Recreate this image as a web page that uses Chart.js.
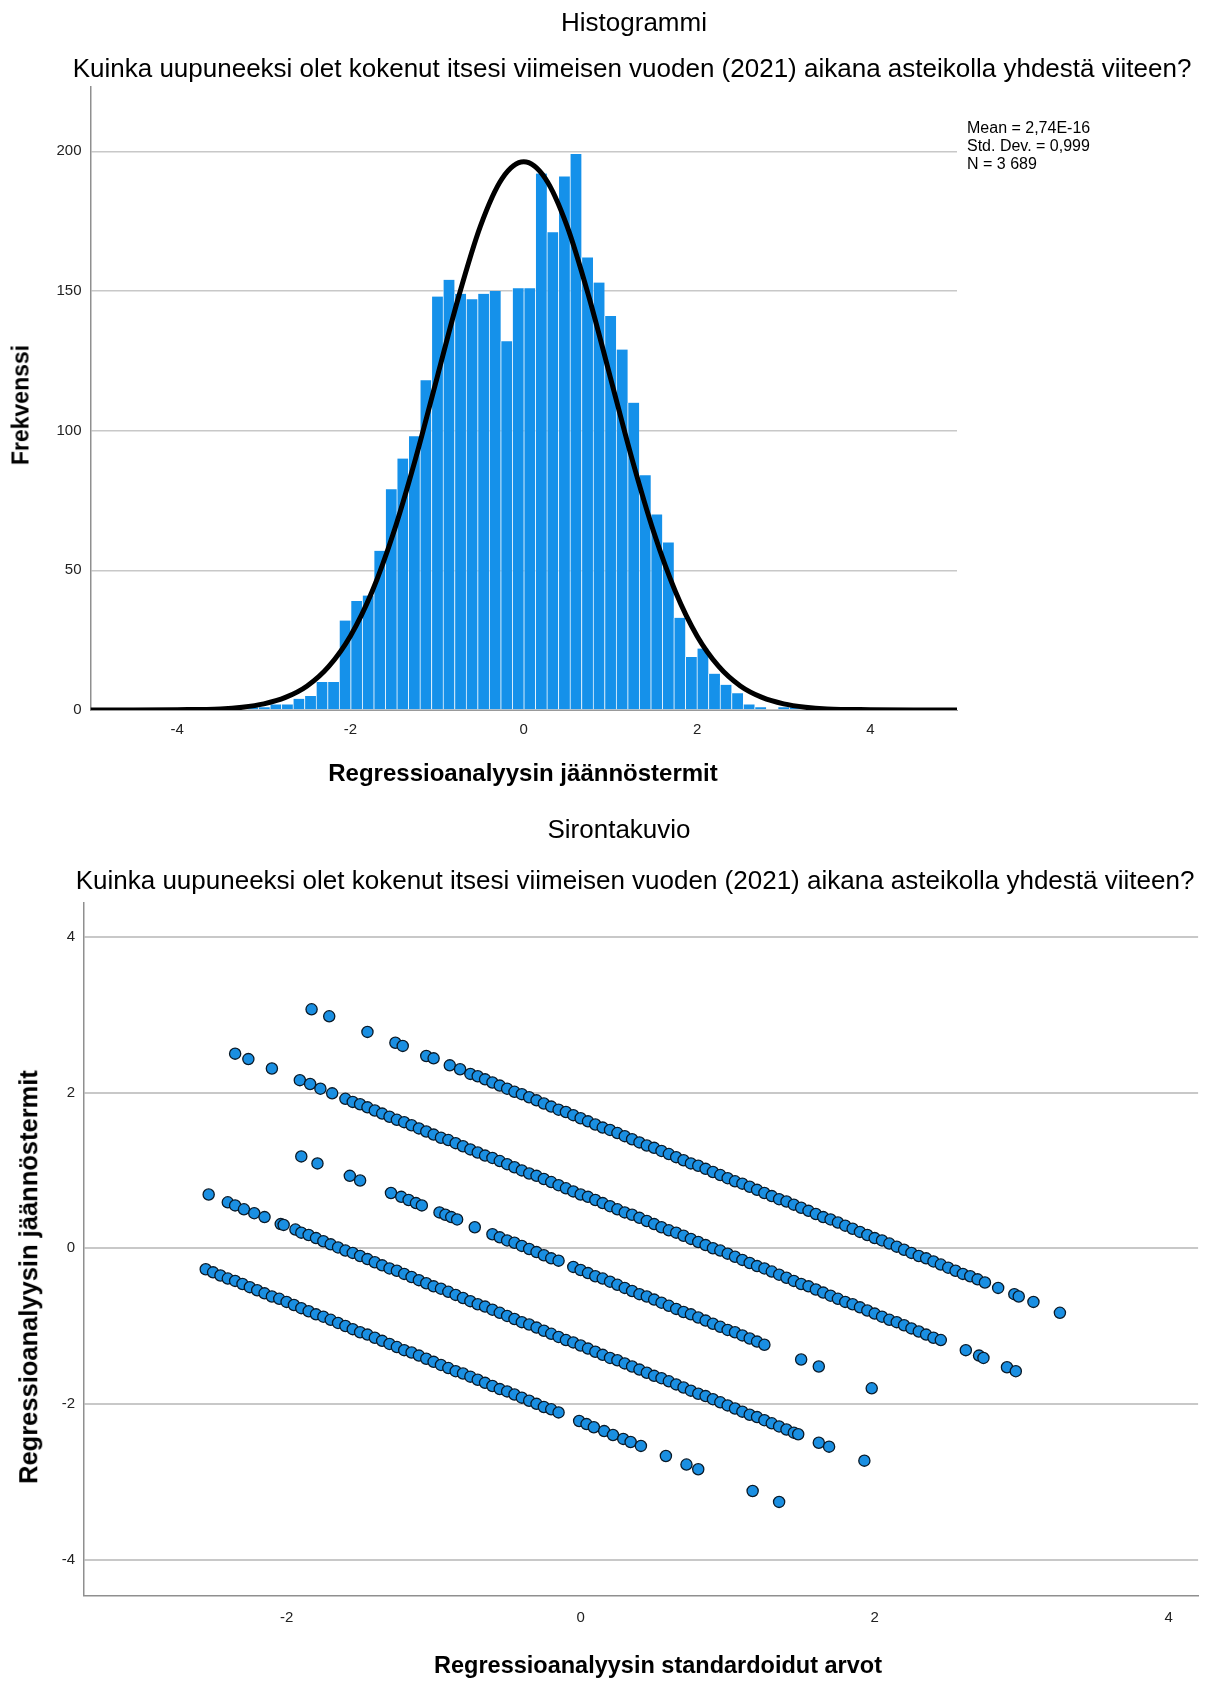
<!DOCTYPE html>
<html>
<head>
<meta charset="utf-8">
<script src="https://cdn.jsdelivr.net/npm/chart.js@4.4.1/dist/chart.umd.min.js"></script>
<style>
  body { margin: 0; background: #fff; width: 1205px; height: 1682px; position: relative; overflow: hidden;
         font-family: "Liberation Sans", Arial, sans-serif; color: #000; }
  canvas { position: absolute; left: 0; }
  .txt { position: absolute; white-space: nowrap; transform: translate(-50%, -50%); z-index: 2; line-height: 1; }
  .bold { font-weight: bold; }
  .rot { transform: translate(-50%, -50%) rotate(-90deg); }
  .stats { position: absolute; left: 967px; top: 119px; font-size: 16px; line-height: 18px; z-index: 2; white-space: nowrap; }
</style>
</head>
<body>
<canvas id="histo" width="1205" height="800" style="top:0"></canvas>
<canvas id="scatter" width="1205" height="882" style="top:800px"></canvas>

<div class="txt" style="left:634px;top:22px;font-size:26px">Histogrammi</div>
<div class="txt" style="left:632px;top:68px;font-size:26px">Kuinka uupuneeksi olet kokenut itsesi viimeisen vuoden (2021) aikana asteikolla yhdestä viiteen?</div>
<div class="txt bold rot" style="left:21px;top:405px;font-size:23px">Frekvenssi</div>
<div class="txt bold" style="left:523px;top:773px;font-size:24px">Regressioanalyysin jäännöstermit</div>
<div class="stats">Mean = 2,74E-16<br>Std. Dev. = 0,999<br>N = 3 689</div>

<div class="txt" style="left:619px;top:829px;font-size:26px">Sirontakuvio</div>
<div class="txt" style="left:635px;top:880px;font-size:26px">Kuinka uupuneeksi olet kokenut itsesi viimeisen vuoden (2021) aikana asteikolla yhdestä viiteen?</div>
<div class="txt bold rot" style="left:29px;top:1277px;font-size:25.5px">Regressioanalyysin jäännöstermit</div>
<div class="txt bold" style="left:658px;top:1666px;font-size:23.5px">Regressioanalyysin standardoidut arvot</div>

<script>
// histogrammi: luokkien keskikohdat ja frekvenssit
const binCenters = [-3.1302, -2.997, -2.8638, -2.7306, -2.5974, -2.4642, -2.331, -2.1978, -2.0646, -1.9314,
  -1.7982, -1.665, -1.5318, -1.3986, -1.2654, -1.1322, -0.999, -0.8658, -0.7326, -0.5994, -0.4662, -0.333, -0.1998, -0.0666,
  0.0666, 0.1998, 0.333, 0.4662, 0.5994, 0.7326, 0.8658, 0.999, 1.1322, 1.2654, 1.3986, 1.5318, 1.665, 1.7982,
  1.9314, 2.0646, 2.1978, 2.331, 2.4642, 2.5974, 2.7306, 2.8638, 2.997, 3.1302];
const binCounts = [1, 1, 2, 2, 4, 5, 10, 10, 32, 39, 41, 57, 79, 90, 98, 118, 148, 154, 149, 147, 149, 150, 132, 151,
  151, 192, 171, 191, 199, 162, 153, 141, 129, 110, 84, 70, 60, 33, 19, 22, 13, 9, 6, 2, 1, 0, 1, 1];

// normaalijakaumakäyrä luettuna kuvasta
const curveX = [-5, -4.5, -4, -3.5, -3.25, -3, -2.75, -2.5, -2.25, -2, -1.75, -1.5, -1.25, -1, -0.75, -0.5, -0.25, 0,
  0.25, 0.5, 0.75, 1, 1.25, 1.5, 1.75, 2, 2.25, 2.5, 2.75, 3, 3.25, 3.5, 4, 4.5, 5];
const curveY = [0, 0, 0.1, 0.4, 1, 2.2, 4.5, 8.6, 15.6, 26.5, 42.4, 63.7, 89.8, 119, 148.1, 173.2, 190.2, 196.2,
  190.2, 173.2, 148.1, 119, 89.8, 63.7, 42.4, 26.5, 15.6, 8.6, 4.5, 2.2, 1, 0.4, 0.1, 0, 0];

const histXTicks = [-4, -2, 0, 2, 4];
const histYTicks = [0, 50, 100, 150, 200];

// sirontakuvio: viisi vinoa nauhaa (x = standardoitu ennuste, y = standardoitu jäännös)
const bandA = [[-1.83,3.07],[-1.71,2.98],[-1.45,2.78],[-1.26,2.64],[-1.21,2.60],[-1.05,2.47],[-1.00,2.44],[-0.89,2.35],[-0.82,2.30],
  [-0.75,2.24],[-0.70,2.21],[-0.65,2.17],[-0.60,2.13],[-0.55,2.09],[-0.50,2.05],[-0.45,2.01],[-0.40,1.98],[-0.35,1.94],[-0.30,1.90],
  [-0.25,1.86],[-0.20,1.82],[-0.15,1.78],[-0.10,1.75],[-0.05,1.71],[0,1.67],[0.05,1.63],[0.10,1.59],[0.15,1.55],[0.20,1.52],
  [0.25,1.48],[0.30,1.44],[0.35,1.40],[0.40,1.36],[0.45,1.32],[0.50,1.29],[0.55,1.25],[0.60,1.21],[0.65,1.17],[0.70,1.13],
  [0.75,1.09],[0.80,1.06],[0.85,1.02],[0.90,0.98],[0.95,0.94],[1.00,0.90],[1.05,0.86],[1.10,0.83],[1.15,0.79],[1.20,0.75],
  [1.25,0.71],[1.30,0.67],[1.35,0.63],[1.40,0.60],[1.45,0.56],[1.50,0.52],[1.55,0.48],[1.60,0.44],[1.65,0.40],[1.70,0.37],
  [1.75,0.33],[1.80,0.29],[1.85,0.25],[1.90,0.21],[1.95,0.17],[2.00,0.13],[2.05,0.10],[2.10,0.06],[2.15,0.02],[2.20,-0.02],
  [2.25,-0.06],[2.30,-0.10],[2.35,-0.13],[2.40,-0.17],[2.45,-0.21],[2.50,-0.25],[2.55,-0.29],[2.60,-0.33],[2.65,-0.36],[2.70,-0.40],
  [2.75,-0.44],[2.84,-0.51],[2.95,-0.59],[2.98,-0.62],[3.08,-0.69],[3.26,-0.83]];
const bandB = [[-2.35,2.50],[-2.26,2.43],[-2.10,2.31],[-1.91,2.16],[-1.84,2.11],[-1.77,2.05],[-1.69,1.99],[-1.60,1.92],
  [-1.55,1.88],[-1.50,1.85],[-1.45,1.81],[-1.40,1.77],[-1.35,1.73],[-1.30,1.69],[-1.25,1.65],[-1.20,1.62],[-1.15,1.58],[-1.10,1.54],
  [-1.05,1.50],[-1.00,1.46],[-0.95,1.42],[-0.90,1.39],[-0.85,1.35],[-0.80,1.31],[-0.75,1.27],[-0.70,1.23],[-0.65,1.19],[-0.60,1.16],
  [-0.55,1.12],[-0.50,1.08],[-0.45,1.04],[-0.40,1.00],[-0.35,0.96],[-0.30,0.93],[-0.25,0.89],[-0.20,0.85],[-0.15,0.81],[-0.10,0.77],
  [-0.05,0.73],[0,0.69],[0.05,0.66],[0.10,0.62],[0.15,0.58],[0.20,0.54],[0.25,0.50],[0.30,0.46],[0.35,0.43],[0.40,0.39],
  [0.45,0.35],[0.50,0.31],[0.55,0.27],[0.60,0.23],[0.65,0.20],[0.70,0.16],[0.75,0.12],[0.80,0.08],[0.85,0.04],[0.90,0.00],
  [0.95,-0.03],[1.00,-0.07],[1.05,-0.11],[1.10,-0.15],[1.15,-0.19],[1.20,-0.23],[1.25,-0.26],[1.30,-0.30],[1.35,-0.34],[1.40,-0.38],
  [1.45,-0.42],[1.50,-0.46],[1.55,-0.49],[1.60,-0.53],[1.65,-0.57],[1.70,-0.61],[1.75,-0.65],[1.80,-0.69],[1.85,-0.72],[1.90,-0.76],
  [1.95,-0.80],[2.00,-0.84],[2.05,-0.88],[2.10,-0.92],[2.15,-0.95],[2.20,-0.99],[2.25,-1.03],[2.30,-1.07],[2.35,-1.11],[2.40,-1.15],
  [2.45,-1.18],[2.62,-1.31],[2.71,-1.38],[2.74,-1.41],[2.90,-1.53],[2.96,-1.58]];
const bandC = [[-1.90,1.18],[-1.79,1.09],[-1.57,0.93],[-1.50,0.87],[-1.29,0.71],[-1.22,0.66],[-1.17,0.62],[-1.12,0.58],[-1.08,0.55],
  [-0.96,0.46],[-0.92,0.43],[-0.88,0.40],[-0.84,0.37],[-0.72,0.27],
  [-0.60,0.18],[-0.55,0.14],[-0.50,0.10],[-0.45,0.07],[-0.40,0.03],[-0.35,-0.01],[-0.30,-0.05],[-0.25,-0.09],[-0.20,-0.13],[-0.15,-0.16],
  [-0.05,-0.24],[0,-0.28],[0.05,-0.32],[0.10,-0.36],[0.15,-0.39],[0.20,-0.43],[0.25,-0.47],[0.30,-0.51],[0.35,-0.55],[0.40,-0.59],
  [0.45,-0.62],[0.50,-0.66],[0.55,-0.70],[0.60,-0.74],[0.65,-0.78],[0.70,-0.82],[0.75,-0.85],[0.80,-0.89],[0.85,-0.93],[0.90,-0.97],
  [0.95,-1.01],[1.00,-1.05],[1.05,-1.08],[1.10,-1.12],[1.15,-1.16],[1.20,-1.20],[1.25,-1.24],
  [1.50,-1.43],[1.62,-1.52],[1.98,-1.80]];
const bandD = [[-2.53,0.69],[-2.40,0.59],[-2.35,0.55],[-2.29,0.50],[-2.22,0.45],[-2.15,0.40],[-2.04,0.31],[-2.02,0.30],[-1.94,0.24],
  [-1.90,0.20],[-1.85,0.17],[-1.80,0.13],[-1.75,0.09],[-1.70,0.05],[-1.65,0.01],[-1.60,-0.03],[-1.55,-0.06],[-1.50,-0.10],[-1.45,-0.14],
  [-1.40,-0.18],[-1.35,-0.22],[-1.30,-0.26],[-1.25,-0.29],[-1.20,-0.33],[-1.15,-0.37],[-1.10,-0.41],[-1.05,-0.45],[-1.00,-0.49],[-0.95,-0.52],
  [-0.90,-0.56],[-0.85,-0.60],[-0.80,-0.64],[-0.75,-0.68],[-0.70,-0.72],[-0.65,-0.75],[-0.60,-0.79],[-0.55,-0.83],[-0.50,-0.87],[-0.45,-0.91],
  [-0.40,-0.95],[-0.35,-0.98],[-0.30,-1.02],[-0.25,-1.06],[-0.20,-1.10],[-0.15,-1.14],[-0.10,-1.18],[-0.05,-1.21],[0,-1.25],[0.05,-1.29],
  [0.10,-1.33],[0.15,-1.37],[0.20,-1.41],[0.25,-1.44],[0.30,-1.48],[0.35,-1.52],[0.40,-1.56],[0.45,-1.60],[0.50,-1.64],[0.55,-1.67],
  [0.60,-1.71],[0.65,-1.75],[0.70,-1.79],[0.75,-1.83],[0.80,-1.87],[0.85,-1.90],[0.90,-1.94],[0.95,-1.98],[1.00,-2.02],[1.05,-2.06],
  [1.10,-2.10],[1.15,-2.14],[1.20,-2.17],[1.25,-2.21],[1.30,-2.25],[1.35,-2.29],[1.40,-2.33],[1.45,-2.37],[1.48,-2.39],
  [1.62,-2.50],[1.69,-2.55],[1.93,-2.73]];
const bandE = [[-2.55,-0.27],[-2.50,-0.31],[-2.45,-0.35],[-2.40,-0.39],[-2.35,-0.42],[-2.30,-0.46],[-2.25,-0.50],[-2.20,-0.54],[-2.15,-0.58],
  [-2.10,-0.62],[-2.05,-0.65],[-2.00,-0.69],[-1.95,-0.73],[-1.90,-0.77],[-1.85,-0.81],[-1.80,-0.85],[-1.75,-0.88],[-1.70,-0.92],[-1.65,-0.96],
  [-1.60,-1.00],[-1.55,-1.04],[-1.50,-1.08],[-1.45,-1.11],[-1.40,-1.15],[-1.35,-1.19],[-1.30,-1.23],[-1.25,-1.27],[-1.20,-1.31],[-1.15,-1.34],
  [-1.10,-1.38],[-1.05,-1.42],[-1.00,-1.46],[-0.95,-1.50],[-0.90,-1.54],[-0.85,-1.58],[-0.80,-1.61],[-0.75,-1.65],[-0.70,-1.69],[-0.65,-1.73],
  [-0.60,-1.77],[-0.55,-1.81],[-0.50,-1.84],[-0.45,-1.88],[-0.40,-1.92],[-0.35,-1.96],[-0.30,-2.00],[-0.25,-2.04],[-0.20,-2.07],[-0.15,-2.11],
  [-0.01,-2.22],[0.04,-2.26],[0.09,-2.30],[0.16,-2.35],[0.22,-2.40],[0.29,-2.45],[0.34,-2.49],[0.41,-2.54],[0.58,-2.67],[0.72,-2.78],
  [0.80,-2.84],[1.17,-3.12],[1.35,-3.26]];

const scatterXTicks = [-2, 0, 2, 4];
const scatterYTicks = [-4, -2, 0, 2, 4];

Chart.defaults.font.family = '"Liberation Sans", Arial, sans-serif';
Chart.defaults.color = '#222';

var tickFont = { size: 15 };

// histogrammi
var histBars = binCenters.map(function (x, i) { return { x: x, y: binCounts[i] }; });
var histCurve = curveX.map(function (x, i) { return { x: x, y: curveY[i] }; });

new Chart(document.getElementById('histo'), {
  type: 'bar',
  data: {
    datasets: [
      { type: 'line', data: histCurve, borderColor: '#000', borderWidth: 5, pointRadius: 0,
        cubicInterpolationMode: 'monotone', order: 0 },
      { type: 'bar', data: histBars, backgroundColor: '#1591ea', borderColor: 'rgba(255,255,255,0.55)',
        borderWidth: { left: 1, right: 0, top: 0, bottom: 0 }, borderSkipped: false,
        barPercentage: 1, categoryPercentage: 1, order: 1 }
    ]
  },
  options: {
    responsive: false,
    animation: false,
    events: [],
    layout: { padding: { left: 0, top: 87, right: 248, bottom: 0 } },
    plugins: { legend: { display: false }, tooltip: { enabled: false } },
    scales: {
      x: {
        type: 'linear', min: -5, max: 5, offset: false,
        grid: { display: false, drawTicks: false },
        border: { display: true, color: '#999', width: 1 },
        ticks: { padding: 11, font: tickFont, maxRotation: 0 },
        afterBuildTicks: function (s) { s.ticks = histXTicks.map(function (v) { return { value: v }; }); },
        afterFit: function (s) { s.height = 90; }
      },
      y: {
        min: 0, max: 223,
        grid: { color: '#c8c8c8', lineWidth: 1.5, drawTicks: false },
        border: { display: true, color: '#8f8f8f', width: 1.5 },
        ticks: { padding: 9, font: tickFont },
        afterBuildTicks: function (s) { s.ticks = histYTicks.map(function (v) { return { value: v }; }); },
        afterFit: function (s) { s.width = 90.5; }
      }
    }
  }
});

// sirontakuvio
var pointStyle = { backgroundColor: '#1a8fe2', borderColor: '#0a1a28', borderWidth: 1.3, pointRadius: 5.6 };
var bands = [bandA, bandB, bandC, bandD, bandE];

new Chart(document.getElementById('scatter'), {
  type: 'scatter',
  data: {
    datasets: bands.map(function (b) {
      return Object.assign({ data: b.map(function (p) { return { x: p[0], y: p[1] }; }) }, pointStyle);
    })
  },
  options: {
    responsive: false,
    animation: false,
    events: [],
    layout: { padding: { left: 0, top: 102.7, right: 0, bottom: 0 } },
    plugins: { legend: { display: false }, tooltip: { enabled: false } },
    scales: {
      x: {
        type: 'linear', min: -3.378, max: 4.2,
        grid: { display: false, drawTicks: false },
        border: { display: true, color: '#8f8f8f', width: 1.5 },
        ticks: { padding: 14, font: tickFont, maxRotation: 0 },
        afterBuildTicks: function (s) { s.ticks = scatterXTicks.map(function (v) { return { value: v }; }); },
        afterFit: function (s) { s.height = 86.7; }
      },
      y: {
        type: 'linear', min: -4.46, max: 4.44,
        grid: { color: '#c8c8c8', lineWidth: 2, drawTicks: false },
        border: { display: true, color: '#8f8f8f', width: 1.5 },
        ticks: { padding: 9, font: tickFont },
        afterBuildTicks: function (s) { s.ticks = scatterYTicks.map(function (v) { return { value: v }; }); },
        afterFit: function (s) { s.width = 84; }
      }
    }
  }
});
</script>
</body>
</html>
